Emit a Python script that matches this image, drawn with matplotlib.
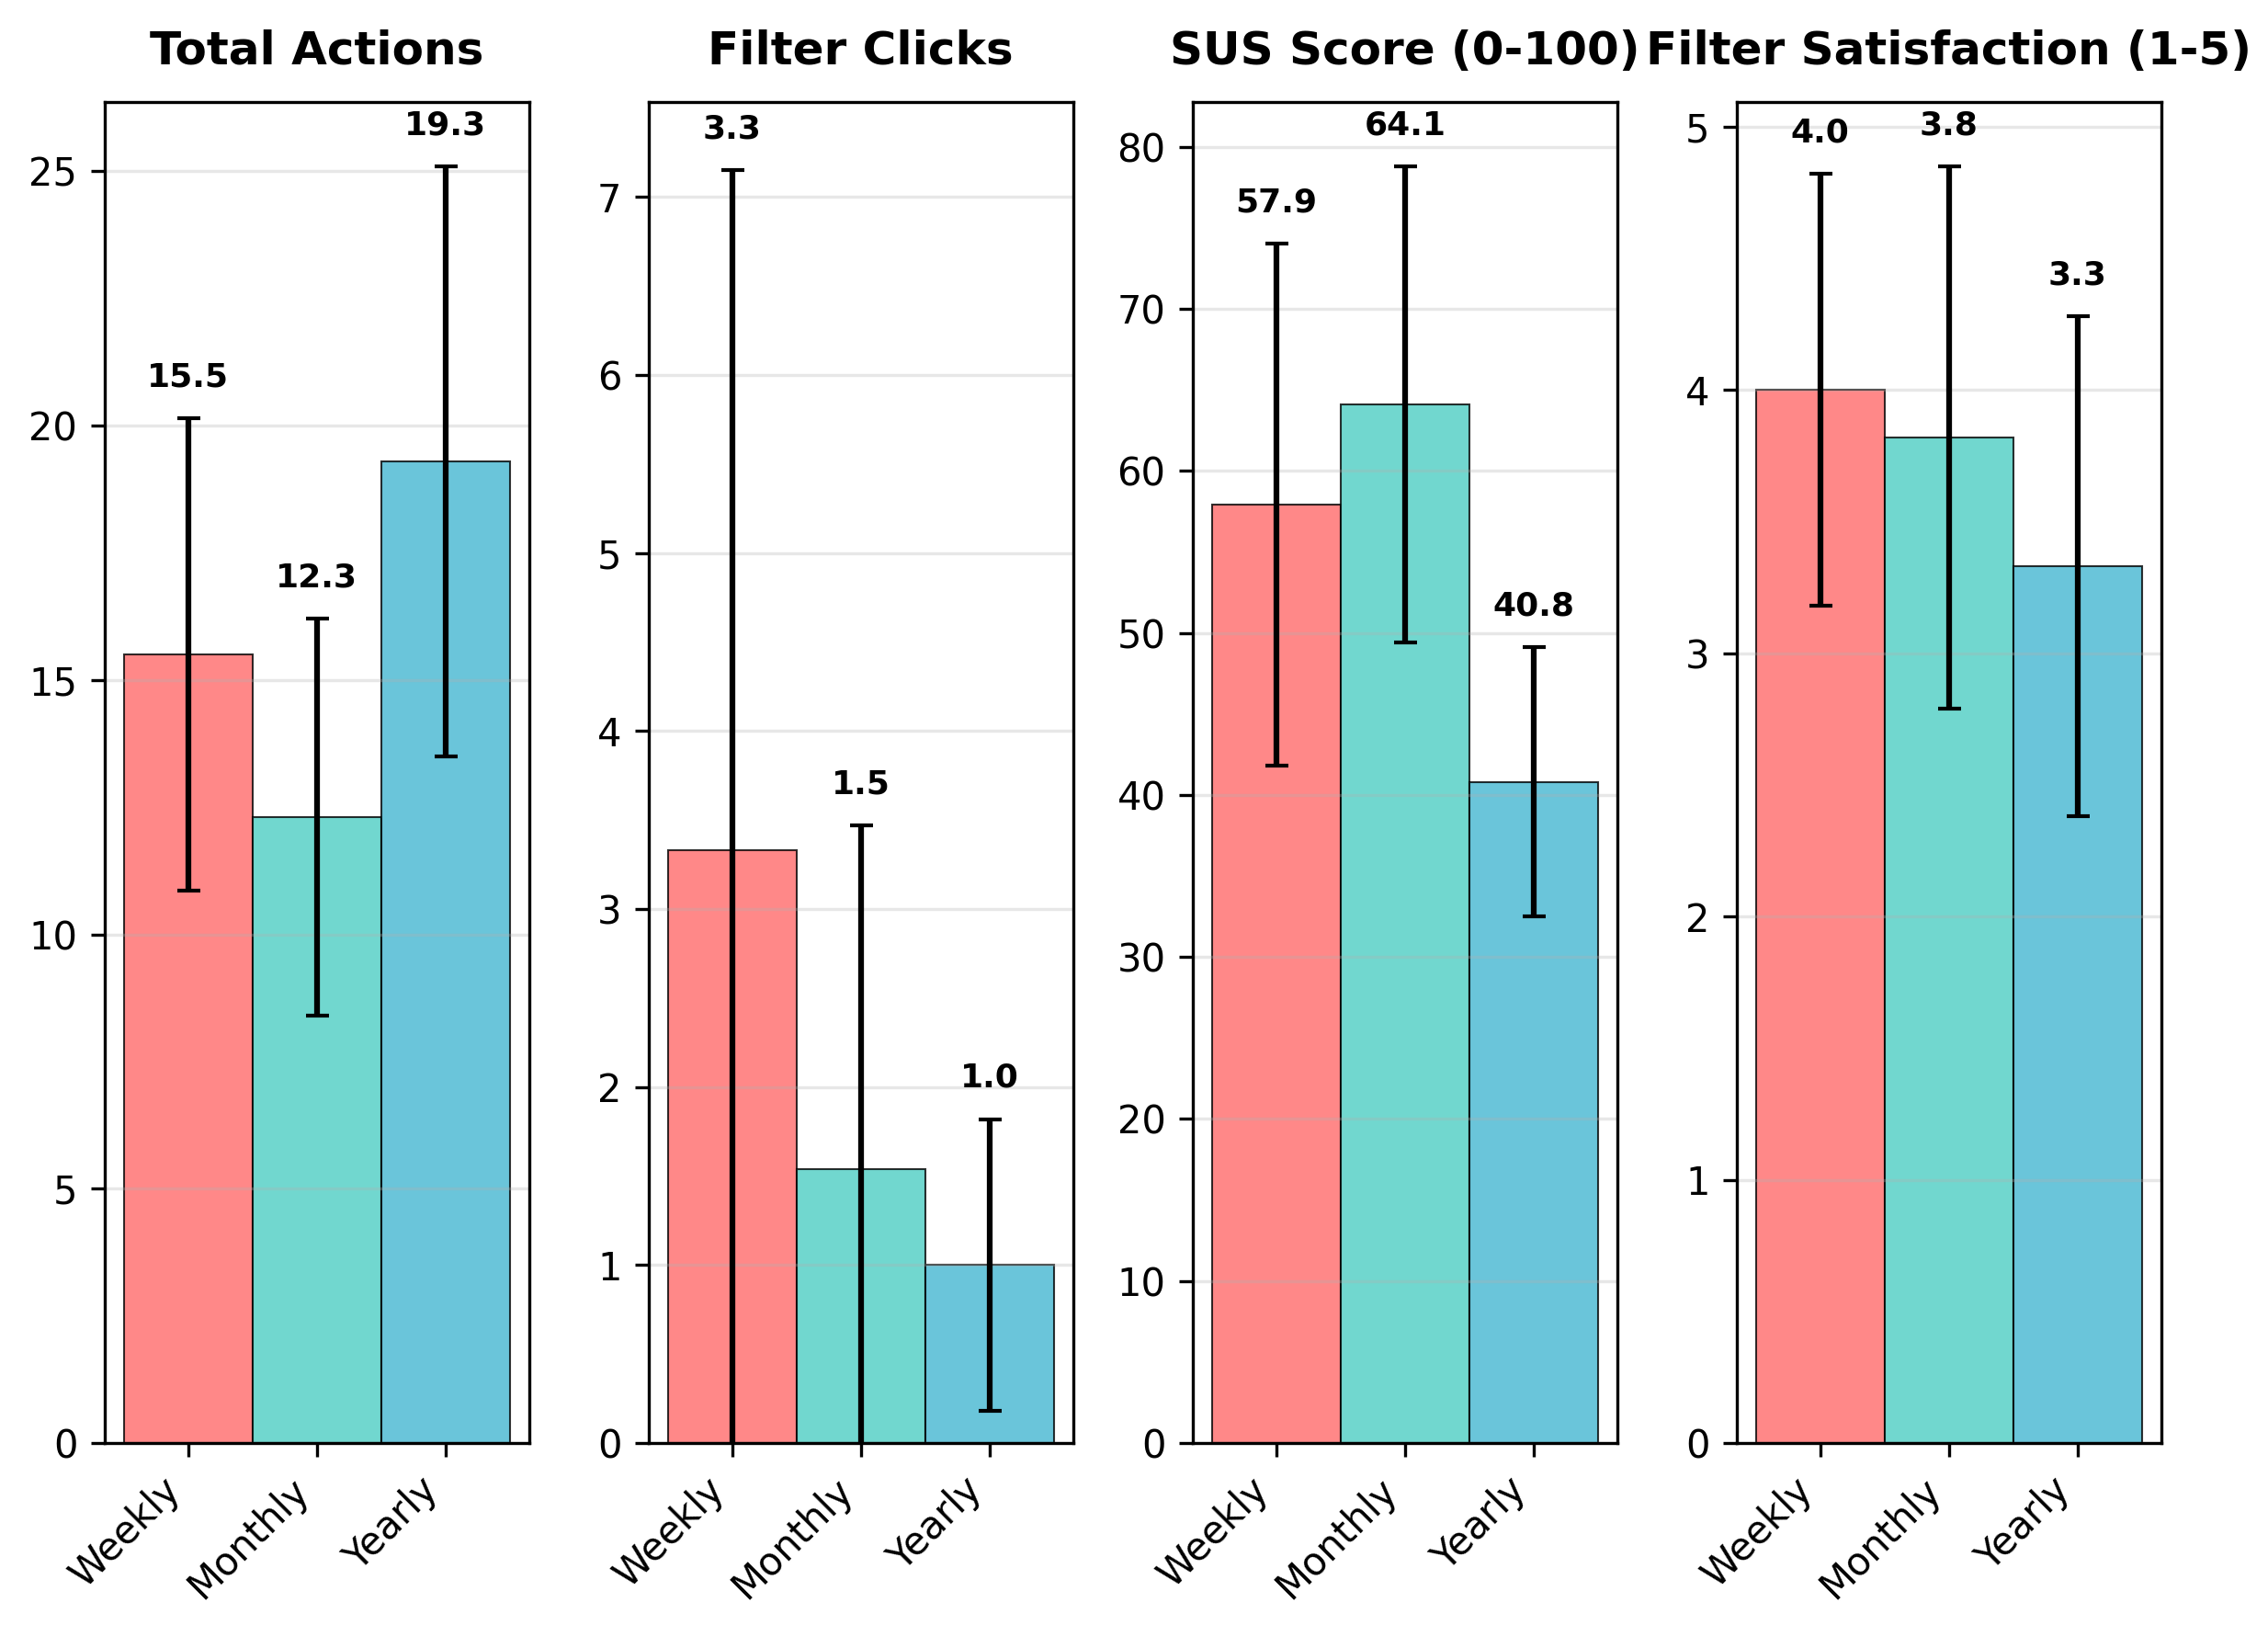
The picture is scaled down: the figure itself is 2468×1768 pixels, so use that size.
import matplotlib
matplotlib.use("Agg")
import matplotlib.pyplot as plt

groups = ["Weekly", "Monthly", "Yearly"]
colors = ["#FF6B6B", "#4ECDC4", "#45B7D1"]

titles = ["Total Actions", "Filter Clicks", "SUS Score (0-100)", "Filter Satisfaction (1-5)"]

total_actions_mean = [15.5, 12.3, 19.3]
total_actions_std = [4.65, 3.9, 5.8]

filter_clicks_mean = [3.33, 1.54, 1.0]
filter_clicks_std = [3.82, 1.93, 0.82]

sus_mean = [57.9, 64.1, 40.8]
sus_std = [16.1, 14.7, 8.3]

satisfaction_mean = [4.0, 3.82, 3.33]
satisfaction_std = [0.82, 1.03, 0.95]

means = [total_actions_mean, filter_clicks_mean, sus_mean, satisfaction_mean]
stds = [total_actions_std, filter_clicks_std, sus_std, satisfaction_std]

fig, axes = plt.subplots(1, 4, figsize=(12.34, 8.84), dpi=200)
fig.subplots_adjust(left=0.046, right=0.953, top=0.937, bottom=0.112, wspace=0.281)

for ax, title, m, s in zip(axes, titles, means, stds):
    x = list(range(len(groups)))
    ax.bar(x, m, width=1.0, yerr=s, color=colors, alpha=0.8,
           edgecolor="black", linewidth=0.75,
           error_kw=dict(elinewidth=2.25, capsize=4.5, capthick=1.5, ecolor="black"))
    ax.set_ylim(bottom=0)
    top = max(mi + si for mi, si in zip(m, s))
    for xi, mi, si in zip(x, m, s):
        ax.text(xi, mi + si + top * 0.02, f"{mi:.1f}", ha="center", va="bottom",
                fontsize=13, fontweight="bold")
    ax.set_title(title, fontsize=18, fontweight="bold", pad=15)
    ax.set_xticks(x)
    ax.set_xticklabels(groups, rotation=45, ha="right", fontsize=15)
    ax.tick_params(axis="y", labelsize=15)
    ax.tick_params(length=5.25, width=1.2, pad=5.25)
    ax.grid(axis="y", alpha=0.3, linewidth=1.2)
    for sp in ax.spines.values():
        sp.set_linewidth(1.2)

fig.savefig("out.png", dpi=200)
